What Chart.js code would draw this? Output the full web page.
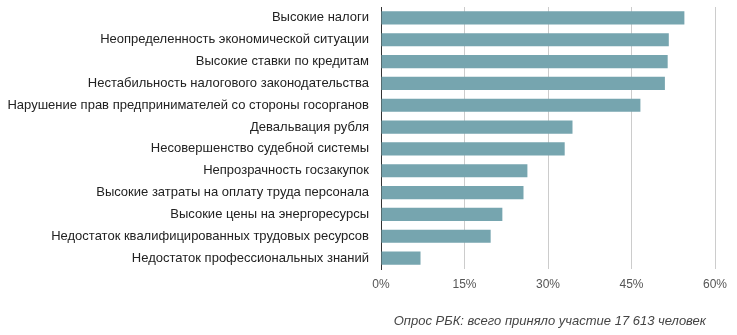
<!DOCTYPE html>
<html lang="ru">
<head>
<meta charset="utf-8">
<title>Проблемы бизнеса</title>
<script src="https://cdn.jsdelivr.net/npm/chart.js@4/dist/chart.umd.min.js"></script>
<style>
    html, body {
        margin: 0;
        padding: 0;
        background: #fff;
    }
    .wrap {
        position: relative;
        width: 737px;
        height: 335px;
    }
    canvas {
        display: block;
    }
    .note {
        position: absolute;
        right: 31px;
        top: 313px;
        font: italic 13px "Liberation Sans", Arial, sans-serif;
        color: #444;
    }
</style>
</head>
<body>
<div class="wrap">
    <canvas id="myChart" width="737" height="335"></canvas>
    <div class="note">Опрос РБК: всего приняло участие 17 613 человек</div>
</div>
<script>

const labels = [
    'Высокие налоги',
    'Неопределенность экономической ситуации',
    'Высокие ставки по кредитам',
    'Нестабильность налогового законодательства',
    'Нарушение прав предпринимателей со стороны госорганов',
    'Девальвация рубля',
    'Несовершенство судебной системы',
    'Непрозрачность госзакупок',
    'Высокие затраты на оплату труда персонала',
    'Высокие цены на энергоресурсы',
    'Недостаток квалифицированных трудовых ресурсов',
    'Недостаток профессиональных знаний'
];

const shares = [54.5, 51.7, 51.5, 51.0, 46.6, 34.4, 33.0, 26.3, 25.6, 21.8, 19.7, 7.1];

const ticks = [0, 15, 30, 45, 60];

function createChart() {
    const data = {
        labels: labels,
        datasets: [{
            label: 'Доля ответов',
            data: shares,
            backgroundColor: 'rgb(118, 165, 175)',
            borderWidth: 0,
            barPercentage: 0.6,
            categoryPercentage: 1
        }]
    };

    const config = {
        type: 'bar',
        data: data,
        options: {
            indexAxis: 'y',
            responsive: false,
            animation: false,
            layout: {
                padding: { left: 8, right: 22, top: 7, bottom: 0 }
            },
            scales: {
                x: {
                    min: 0,
                    max: 60,
                    afterBuildTicks: (scale) => {
                        scale.ticks = ticks.map(v => ({ value: v }));
                    },
                    afterFit: (scale) => {
                        scale.height = 66;
                        scale.paddingLeft = 0;
                        scale.paddingRight = 0;
                    },
                    grid: {
                        color: '#cccccc',
                        lineWidth: 1,
                        drawTicks: false
                    },
                    border: { display: false },
                    ticks: {
                        padding: 8,
                        color: '#555',
                        font: { family: '"Liberation Sans", Arial, sans-serif', size: 12 },
                        callback: (v) => v + '%'
                    }
                },
                y: {
                    afterFit: (scale) => {
                        scale.width = 373;
                        scale.paddingTop = 0;
                        scale.paddingBottom = 0;
                    },
                    grid: { display: false, drawTicks: false },
                    border: { display: true, color: '#333', width: 1 },
                    ticks: {
                        padding: 12,
                        color: '#222',
                        font: { family: '"Liberation Sans", Arial, sans-serif', size: 13 }
                    }
                }
            },
            plugins: {
                legend: { display: false },
                tooltip: { enabled: false }
            }
        }
    };

    return new Chart(document.getElementById('myChart'), config);
}

createChart();
</script>
</body>
</html>
